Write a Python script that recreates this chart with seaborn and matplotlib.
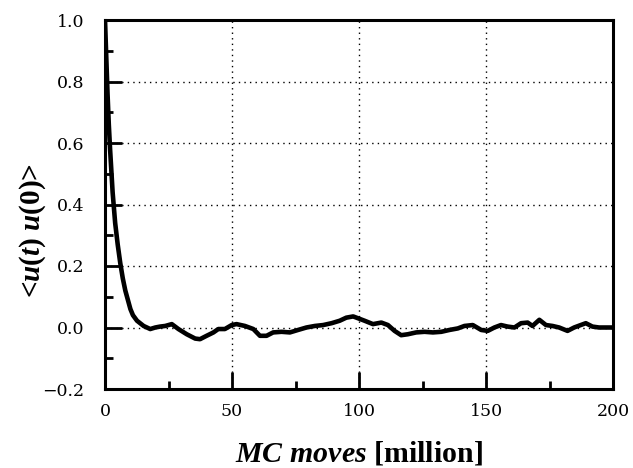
import numpy as np
import pandas as pd
import seaborn as sns
import matplotlib
matplotlib.use("Agg")
import matplotlib.pyplot as plt
from matplotlib.ticker import MultipleLocator

# Data
mc_moves = [0, 0.5, 1, 1.5, 2, 3, 4, 5, 6, 7, 8, 9, 10, 11, 12.6, 15.2, 17.8, 19.8, 21.7, 23.7,
            26.3, 28.9, 32.2, 35.5, 37.4, 40, 42.7, 44.6, 47.2, 49.9, 51.8, 55.1, 58.4,
            61, 63.6, 66.2, 69.5, 72.8, 76, 79.3, 82.6, 85.9, 89.2, 92.4, 95, 97.7,
            99, 102.2, 105.5, 108.8, 111.4, 114, 116.6, 119.2, 122.5, 125.8, 129.1,
            132.4, 135.6, 138.9, 141.5, 144.8, 148.1, 150.7, 153.3, 155.9, 158.5,
            161.2, 163.8, 166.4, 168.3, 171, 173.6, 176.2, 178.8, 182.1, 184.7,
            187.3, 189.3, 191.9, 194.5, 196.5, 200]
autocorr = [1.0, 0.88, 0.76, 0.66, 0.58, 0.44, 0.34, 0.27, 0.21, 0.16, 0.12, 0.09, 0.06, 0.04,
            0.022, 0.005, -0.005, 0.0, 0.003, 0.005,
            0.011, -0.005, -0.022, -0.036, -0.038, -0.027, -0.016, -0.005, -0.005, 0.008,
            0.011, 0.005, -0.005,
            -0.027, -0.027, -0.016, -0.014, -0.016, -0.008, 0.0, 0.005, 0.008, 0.014,
            0.022, 0.032, 0.036,
            0.032, 0.022, 0.011, 0.016, 0.008, -0.011, -0.025, -0.022, -0.016, -0.014,
            -0.016, -0.014, -0.008, -0.003, 0.005, 0.008, -0.008, -0.011, 0.0, 0.008,
            0.003, 0.0, 0.014, 0.016, 0.005, 0.025, 0.008, 0.005, 0.0, -0.011, 0.0,
            0.008, 0.014, 0.003, 0.0, 0.0, 0.0]
x_ticks = [0, 50, 100, 150, 200]
y_ticks = [-0.2, 0.0, 0.2, 0.4, 0.6, 0.8, 1.0]

df = pd.DataFrame({"t": mc_moves, "c": autocorr})

sns.set_theme(style="white")
plt.rcParams["text.color"] = "black"
plt.rcParams["axes.labelcolor"] = "black"
plt.rcParams["xtick.color"] = "black"
plt.rcParams["ytick.color"] = "black"
plt.rcParams["mathtext.fontset"] = "custom"
plt.rcParams["mathtext.bfit"] = "Liberation Serif:bold:italic"
plt.rcParams["mathtext.it"] = "Liberation Serif:bold:italic"
plt.rcParams["mathtext.rm"] = "Liberation Serif:bold"

fig = plt.figure(figsize=(6.33, 4.68), dpi=100)
ax = fig.add_axes([105 / 633, (468 - 389) / 468, (613 - 105) / 633, (389 - 20) / 468])

sns.lineplot(data=df, x="t", y="c", ax=ax, color="black", linewidth=3.3,
             sort=False, estimator=None)

ax.set_xlim(0, 200)
ax.set_ylim(-0.2, 1.0)
ax.set_xticks(x_ticks)
ax.set_yticks(y_ticks)
ax.xaxis.set_minor_locator(MultipleLocator(25))
ax.yaxis.set_minor_locator(MultipleLocator(0.1))
ax.set_xticklabels([f"{v:g}" for v in x_ticks], family="DejaVu Serif", fontsize=12.5,
                   color="black")
ax.set_yticklabels([f"{v:.1f}".replace("-", "\u2212") for v in y_ticks],
                   family="DejaVu Serif", fontsize=12.5, color="black")

ax.tick_params(axis="both", which="major", direction="in", length=12, width=2,
               color="black", bottom=True, left=True, top=False, right=False)
ax.tick_params(axis="x", which="major", pad=10)
ax.tick_params(axis="y", which="major", pad=15)
ax.tick_params(axis="both", which="minor", direction="in", length=6, width=2,
               color="black", bottom=True, left=True, top=False, right=False)

ax.grid(True, which="major", linestyle=(0, (1, 3)), color="black", linewidth=1.0)
for s in ax.spines.values():
    s.set_color("black")
    s.set_linewidth(2.2)
    s.set_visible(True)

ax.set_xlabel(r"$\mathit{MC\ moves}$ [million]", family="Liberation Serif",
              fontweight="bold", fontsize=21.5, labelpad=14, color="black")
ax.set_ylabel(r"<$\mathit{u}$($\mathit{t}$) $\mathit{u}$(0)>", family="Liberation Serif",
              fontweight="bold", fontsize=21, color="black")
ax.yaxis.set_label_coords(-0.112, 0.43)

fig.savefig("out.png", dpi=100, facecolor="white")
